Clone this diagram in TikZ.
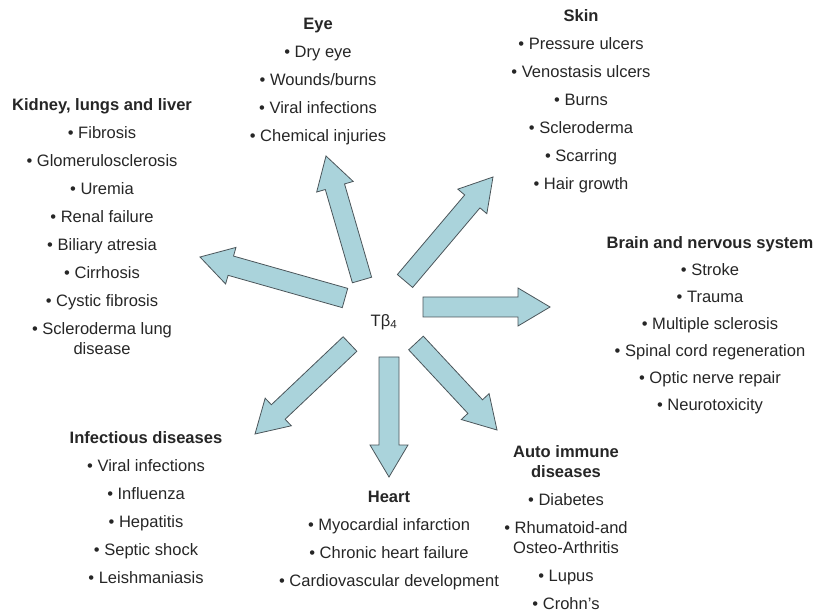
\documentclass[tikz,border=0pt]{standalone}
\usepackage{fontspec}
\setmainfont{Liberation Sans}
\usetikzlibrary{calc}
\definecolor{arrowfill}{RGB}{170,211,219}
\definecolor{arrowline}{RGB}{75,85,90}
\newcommand{\fatarrow}[2]{%
  \coordinate (#1hb) at ($(#2)!24pt!(#1)$);
  \draw[fat] ($(#1)!7.5pt!90:(#2)$) -- ($(#1hb)!7.5pt!90:(#2)$)
    -- ($(#1hb)!14.25pt!90:(#2)$) -- (#2)
    -- ($(#1hb)!14.25pt!-90:(#2)$) -- ($(#1hb)!7.5pt!-90:(#2)$)
    -- ($(#1)!7.5pt!-90:(#2)$) -- cycle;}
\begin{document}
\begin{tikzpicture}[x=0.75pt,y=-0.75pt,every node/.style={align=center,
  inner sep=0pt,anchor=north,text=black!85,font=\fontsize{12.4}{21}\selectfont},
  fat/.style={draw=arrowline,fill=arrowfill,line width=0.6pt,line join=miter}]
\useasboundingbox (0,0) rectangle (817,616);
\node[anchor=center] (tb) at (384,322) {Tβ\textsubscript{4}};
\node (eye) at (318,18)
  {\textbf{Eye}\\ \textbullet{} Dry eye\\ \textbullet{} Wounds/burns\\
   \textbullet{} Viral infections\\ \textbullet{} Chemical injuries};
\node (skin) at (581,9)
  {\textbf{Skin}\\ \textbullet{} Pressure ulcers\\ \textbullet{} Venostasis ulcers\\
   \textbullet{} Burns\\ \textbullet{} Scleroderma\\ \textbullet{} Scarring\\
   \textbullet{} Hair growth};
\node (kidney) at (102,98)
  {\textbf{Kidney, lungs and liver}\\ \textbullet{} Fibrosis\\
   \textbullet{} Glomerulosclerosis\\ \textbullet{} Uremia\\
   \textbullet{} Renal failure\\ \textbullet{} Biliary atresia\\
   \textbullet{} Cirrhosis\\ \textbullet{} Cystic fibrosis\\
   \textbullet{} Scleroderma lung\\[-5.5pt] disease};
\node[font=\fontsize{12.4}{20.3}\selectfont] (brain) at (710,236)
  {\textbf{Brain and nervous system}\\ \textbullet{} Stroke\\ \textbullet{} Trauma\\
   \textbullet{} Multiple sclerosis\\ \textbullet{} Spinal cord regeneration\\
   \textbullet{} Optic nerve repair\\ \textbullet{} Neurotoxicity};
\node (infect) at (146,431)
  {\textbf{Infectious diseases}\\ \textbullet{} Viral infections\\
   \textbullet{} Influenza\\ \textbullet{} Hepatitis\\
   \textbullet{} Septic shock\\ \textbullet{} Leishmaniasis};
\node (heart) at (389,491)
  {\textbf{Heart}\\ \textbullet{} Myocardial infarction\\
   \textbullet{} Chronic heart failure\\ \textbullet{} Cardiovascular development};
\node (auto) at (566,445)
  {\textbf{Auto immune}\\[-6pt] \textbf{diseases}\\ \textbullet{} Diabetes\\
   \textbullet{} Rhumatoid-and\\[-6pt] Osteo-Arthritis\\
   \textbullet{} Lupus\\ \textbullet{} Crohn's};
% arrow ends
\coordinate (eyeS) at (362,280);    \coordinate (eyeE) at (326,156);
\coordinate (skinS) at (405,281);   \coordinate (skinE) at (493,177);
\coordinate (kidS) at (345,298);    \coordinate (kidE) at (200,257);
\coordinate (brainS) at (423,307);  \coordinate (brainE) at (550,307);
\coordinate (infS) at (350,344);    \coordinate (infE) at (255,434);
\coordinate (heartS) at (389,357);  \coordinate (heartE) at (389,477);
\coordinate (autoS) at (416,343);   \coordinate (autoE) at (497,430);
\fatarrow{eyeS}{eyeE}
\fatarrow{skinS}{skinE}
\fatarrow{kidS}{kidE}
\fatarrow{brainS}{brainE}
\fatarrow{infS}{infE}
\fatarrow{heartS}{heartE}
\fatarrow{autoS}{autoE}
\end{tikzpicture}
\end{document}
